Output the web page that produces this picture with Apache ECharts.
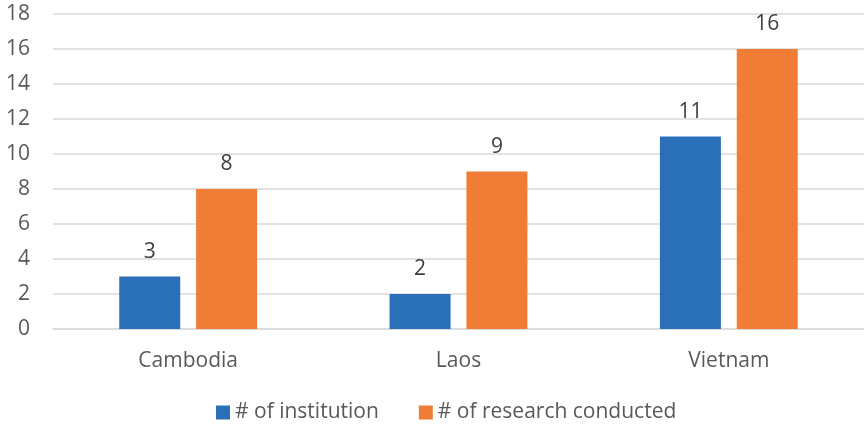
<!DOCTYPE html>
<html>
<head>
<meta charset="utf-8">
<script src="https://cdn.jsdelivr.net/npm/echarts@6/dist/echarts.min.js"></script>
<style>
  html, body { margin: 0; padding: 0; background: #fff; }
  #chart { width: 864px; height: 429px; }
</style>
</head>
<body>
<div id="chart"></div>
<script>
const categories = ['Cambodia', 'Laos', 'Vietnam'];
const institutions = [3, 2, 11];
const research = [8, 9, 16];
const seriesNames = ['# of institution', '# of research conducted'];

const chart = echarts.init(document.getElementById('chart'));
const font = 'Open Sans';

const labelStyle = {
  show: true,
  position: 'top',
  distance: 14,
  color: '#404040',
  fontSize: 21,
  fontFamily: font
};

chart.setOption({
  animation: false,
  grid: { left: 53, right: 0, top: 14, bottom: 100 },
  legend: {
    bottom: 1,
    left: 211,
    itemWidth: 14,
    itemHeight: 14,
    itemGap: 40,
    icon: 'rect',
    textStyle: { color: '#595959', fontSize: 21, fontFamily: font, padding: [0, 0, 0, 0] },
    data: seriesNames
  },
  xAxis: {
    type: 'category',
    data: categories,
    axisTick: { show: false },
    axisLine: { lineStyle: { color: '#D9D9D9', width: 1.5 } },
    axisLabel: { color: '#595959', fontSize: 21, fontFamily: font, margin: 22 }
  },
  yAxis: {
    type: 'value',
    min: 0,
    max: 18,
    interval: 2,
    axisLine: { show: false },
    axisTick: { show: false },
    splitLine: { lineStyle: { color: '#D9D9D9', width: 1.5 } },
    axisLabel: { color: '#595959', fontSize: 21, fontFamily: font, margin: 23 }
  },
  series: [
    {
      name: seriesNames[0],
      type: 'bar',
      data: institutions,
      barWidth: 61,
      barGap: '26%',
      itemStyle: { color: '#2A70B8' },
      label: labelStyle
    },
    {
      name: seriesNames[1],
      type: 'bar',
      data: research,
      barWidth: 61,
      itemStyle: { color: '#EF7D36' },
      label: labelStyle
    }
  ]
});
</script>
</body>
</html>
